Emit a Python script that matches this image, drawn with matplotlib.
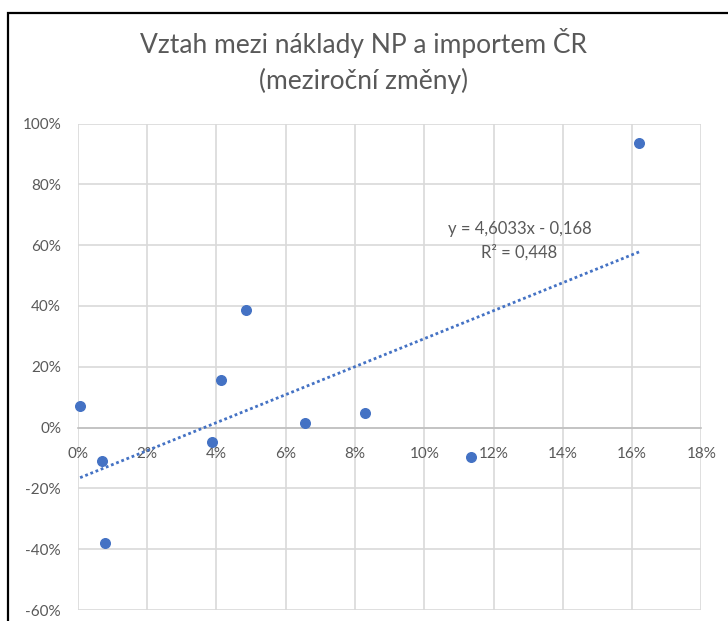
import matplotlib
matplotlib.use("Agg")
from matplotlib import pyplot as plt
from matplotlib.patches import Rectangle
from matplotlib.ticker import FuncFormatter

plt.rcParams['font.family'] = ['Lato', 'DejaVu Sans']

# meziroční změny (podíly)
naklady_np = [0.0007, 0.0069, 0.0080, 0.0387, 0.0414, 0.0487, 0.0656, 0.0828, 0.1136, 0.1620]
import_cr = [0.072, -0.110, -0.380, -0.047, 0.155, 0.387, 0.015, 0.047, -0.097, 0.936]

# lineární trend z Excelu
slope = 4.6033
intercept = -0.168
r2_text = "0,448"

title = "Vztah mezi náklady NP a importem ČR\n(meziroční změny)"
x_ticks = [i / 100 for i in range(0, 19, 2)]
y_ticks = [i / 100 for i in range(-60, 101, 20)]

gray = "#595959"
blue = "#4472C4"

fig = plt.figure(figsize=(7.28, 6.21), dpi=100)
ax = fig.add_axes([77.7 / 728, 1 - 610 / 621, (701.5 - 77.7) / 728, (610 - 123.5) / 621])

ax.set_xlim(0, 0.18)
ax.set_ylim(-0.6, 1.0)
ax.set_xticks(x_ticks)
ax.set_yticks(y_ticks)
pct = FuncFormatter(lambda v, p: "{:.0f}%".format(v * 100))
ax.xaxis.set_major_formatter(pct)
ax.yaxis.set_major_formatter(pct)

ax.grid(True, color="#d9d9d9", linewidth=1.2)
ax.set_axisbelow(True)
for s in ["top", "right", "left"]:
    ax.spines[s].set_visible(False)
ax.spines["bottom"].set_position(("data", 0))
ax.spines["bottom"].set_color("#bfbfbf")
ax.spines["bottom"].set_linewidth(1.2)
ax.tick_params(axis="both", length=0, labelsize=11, labelcolor=gray)
ax.tick_params(axis="x", pad=14)
ax.tick_params(axis="y", pad=12)

# trend
x0, x1 = min(naklady_np), max(naklady_np)
ax.plot([x0, x1], [slope * x0 + intercept, slope * x1 + intercept],
        color=blue, linewidth=2, linestyle=(0, (1, 1)), zorder=3)

ax.scatter(naklady_np, import_cr, s=48, color=blue, zorder=4, clip_on=False)

eq = "y = {}x - {}\nR² = {}".format(str(slope).replace(".", ","),
                                    str(-intercept).replace(".", ","), r2_text)
ax.text(0.1275, 0.615, eq, ha="center", va="center", fontsize=12, color=gray,
        linespacing=1.55)

fig.text(0.5, 1 - 61 / 621, title, ha="center", va="center", fontsize=19,
         color=gray, linespacing=1.45)

# rámeček grafu
fig.patches.append(Rectangle((8.3 / 728, -0.1), 1.2, 1 - 12.7 / 621 + 0.1,
                             transform=fig.transFigure, fill=False,
                             edgecolor="black", linewidth=1.6))

plt.savefig("out.png", dpi=100)
